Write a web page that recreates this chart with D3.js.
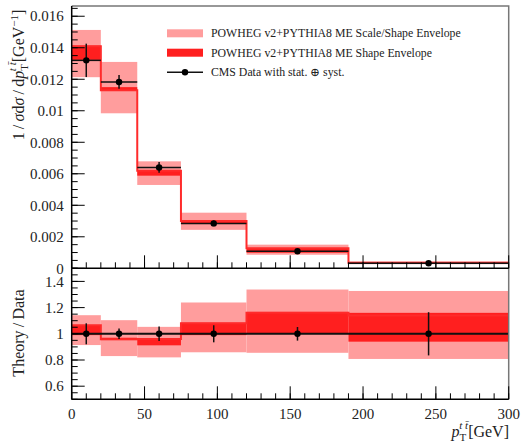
<!DOCTYPE html>
<html>
<head>
<meta charset="utf-8">
<script src="https://cdn.jsdelivr.net/npm/d3@7"></script>
<style>
  body { margin: 0; background: #fff; }
  svg text { font-family: "Liberation Serif", "DejaVu Serif", serif; fill: #222; }
</style>
</head>
<body>
<svg id="chart_svg" width="521" height="443"></svg>
<script>
// bins in pT(ttbar) [GeV]
var binEdges = [0, 20, 45, 75, 120, 190, 300];

// top panel: normalised cross section
var dataVals = [0.0132, 0.01183, 0.0064, 0.00285, 0.00108, 0.00032];
var dataErr = [0.00106, 0.00044, 0.00034, 0.00018, 0.00006, 0.00005];
var theoryVals = [0.0141, 0.0113, 0.0062, 0.0030, 0.00128, 0.00036];
var scaleLo = [0.01213, 0.00984, 0.00529, 0.00244, 0.00086, 0.00026];
var scaleHi = [0.01513, 0.0131, 0.00679, 0.00353, 0.0015, 0.00043];
var shapeLo = [0.01323, 0.01128, 0.00588, 0.00281, 0.00099, 0.0003];
var shapeHi = [0.01413, 0.0115, 0.0062, 0.0030, 0.00129, 0.00037];

// bottom panel: theory / data
var ratioData = [1, 1, 1, 1, 1, 1];
var ratioErr = [0.08, 0.04, 0.055, 0.065, 0.052, 0.165];
var ratioTheory = [1.066, 0.958, 0.96, 1.08, 1.16, 1.14];
var ratioScaleLo = [0.914, 0.83, 0.82, 0.859, 0.855, 0.808];
var ratioScaleHi = [1.142, 1.104, 1.053, 1.239, 1.338, 1.327];
var ratioShapeLo = [0.99, 0.952, 0.912, 0.99, 1.0, 0.94];
var ratioShapeHi = [1.066, 0.97, 0.962, 1.084, 1.167, 1.16];

var topTicks = [0, 0.002, 0.004, 0.006, 0.008, 0.01, 0.012, 0.014, 0.016];
var topTickLabels = ["0", "0.002", "0.004", "0.006", "0.008", "0.01", "0.012", "0.014", "0.016"];
var ratioTicks = [0.6, 0.8, 1, 1.2, 1.4];
var ratioTickLabels = ["0.6", "0.8", "1", "1.2", "1.4"];
var xTicks = [0, 50, 100, 150, 200, 250, 300];

var legendLabels = [
  "POWHEG v2+PYTHIA8 ME Scale/Shape Envelope",
  "POWHEG v2+PYTHIA8 ME Shape Envelope",
  "CMS Data with stat. \u2295 syst."
];

var lightRed = "#ff9d9d", darkRed = "#ff1f1f", lineRed = "#ff2b2b";

// panel edges in px
var pLeft = 71.7, pRight = 508.7, pTop = 6, pMid = 268.3, pBottom = 399.3;

var svg = d3.select("#chart_svg");

var xScale = d3.scaleLinear().domain([0, 300]).range([pLeft, pRight]);
var yTop = d3.scaleLinear().domain([0, 0.01665]).range([pMid, pTop]);
var yRatio = d3.scaleLinear().domain([0.5, 1.5]).range([pBottom, pMid]);

var bins = d3.range(binEdges.length - 1).map(function (i) {
  return { i: i, x0: binEdges[i], x1: binEdges[i + 1], xc: (binEdges[i] + binEdges[i + 1]) / 2 };
});

function drawBands(yScale, lo, hi, color) {
  svg.append("g").selectAll("rect")
    .data(bins)
    .join("rect")
    .attr("x", d => xScale(d.x0))
    .attr("width", d => xScale(d.x1) - xScale(d.x0))
    .attr("y", d => yScale(hi[d.i]))
    .attr("height", d => yScale(lo[d.i]) - yScale(hi[d.i]))
    .attr("fill", color);
}

function drawStep(yScale, vals) {
  var pts = [];
  bins.forEach(function (d) {
    pts.push([d.x0, vals[d.i]]);
    pts.push([d.x1, vals[d.i]]);
  });
  var line = d3.line().x(p => xScale(p[0])).y(p => yScale(p[1]));
  svg.append("path")
    .datum(pts)
    .attr("d", line)
    .attr("fill", "none")
    .attr("stroke", lineRed)
    .attr("stroke-width", 2);
}

function drawPoints(yScale, vals, errs, withXBars) {
  var g = svg.append("g");
  if (withXBars) {
    g.selectAll("line.xbar")
      .data(bins)
      .join("line")
      .attr("class", "xbar")
      .attr("x1", d => xScale(d.x0))
      .attr("x2", d => xScale(d.x1))
      .attr("y1", d => yScale(vals[d.i]))
      .attr("y2", d => yScale(vals[d.i]))
      .attr("stroke", "#111")
      .attr("stroke-width", 1.5);
  }
  g.selectAll("line.ybar")
    .data(bins)
    .join("line")
    .attr("class", "ybar")
    .attr("x1", d => xScale(d.xc))
    .attr("x2", d => xScale(d.xc))
    .attr("y1", d => yScale(vals[d.i] - errs[d.i]))
    .attr("y2", d => yScale(vals[d.i] + errs[d.i]))
    .attr("stroke", "#111")
    .attr("stroke-width", 1.5);
  g.selectAll("circle")
    .data(bins)
    .join("circle")
    .attr("cx", d => xScale(d.xc))
    .attr("cy", d => yScale(vals[d.i]))
    .attr("r", 3.2)
    .attr("fill", "#000");
}

// top panel
drawBands(yTop, scaleLo, scaleHi, lightRed);
drawBands(yTop, shapeLo, shapeHi, darkRed);
drawStep(yTop, theoryVals);
drawPoints(yTop, dataVals, dataErr, true);

// ratio panel
drawBands(yRatio, ratioScaleLo, ratioScaleHi, lightRed);
drawBands(yRatio, ratioShapeLo, ratioShapeHi, darkRed);
drawStep(yRatio, ratioTheory);
svg.append("line")
  .attr("x1", xScale(0)).attr("x2", xScale(300))
  .attr("y1", yRatio(1)).attr("y2", yRatio(1))
  .attr("stroke", "#111").attr("stroke-width", 2);
drawPoints(yRatio, ratioData, ratioErr, false);

// frame
svg.append("path")
  .attr("d", `M${pLeft},${pTop}H${pRight}V${pBottom}`)
  .attr("fill", "none").attr("stroke", "#777").attr("stroke-width", 1.5);

function yAxis(scale, major, labels, minorStep, lo, hi) {
  var minor = d3.range(lo, hi + 1e-9, minorStep);
  var g = svg.append("g");
  g.selectAll("line.minor").data(minor).join("line")
    .attr("class", "minor")
    .attr("x1", pLeft).attr("x2", pLeft + 6)
    .attr("y1", d => scale(d)).attr("y2", d => scale(d))
    .attr("stroke", "#000").attr("stroke-width", 1);
  g.selectAll("line.major").data(major).join("line")
    .attr("class", "major")
    .attr("x1", pLeft).attr("x2", pLeft + 13)
    .attr("y1", d => scale(d)).attr("y2", d => scale(d))
    .attr("stroke", "#000").attr("stroke-width", 1);
  g.selectAll("text").data(major).join("text")
    .attr("x", pLeft - 8)
    .attr("y", d => scale(d))
    .attr("dy", "0.35em")
    .attr("text-anchor", "end")
    .style("font-size", "15px")
    .text((d, i) => labels[i]);
  g.append("line")
    .attr("x1", pLeft).attr("x2", pLeft)
    .attr("y1", scale.range()[0]).attr("y2", scale.range()[1])
    .attr("stroke", "#000").attr("stroke-width", 1.5);
}

function xAxis(y) {
  var g = svg.append("g");
  g.selectAll("line.minor").data(d3.range(0, 301, 10)).join("line")
    .attr("class", "minor")
    .attr("x1", d => xScale(d)).attr("x2", d => xScale(d))
    .attr("y1", y).attr("y2", y - 6)
    .attr("stroke", "#000").attr("stroke-width", 1);
  g.selectAll("line.major").data(xTicks).join("line")
    .attr("class", "major")
    .attr("x1", d => xScale(d)).attr("x2", d => xScale(d))
    .attr("y1", y).attr("y2", y - 13)
    .attr("stroke", "#000").attr("stroke-width", 1);
  g.append("line")
    .attr("x1", pLeft).attr("x2", pRight)
    .attr("y1", y).attr("y2", y)
    .attr("stroke", "#000").attr("stroke-width", 1.5);
}

yAxis(yTop, topTicks, topTickLabels, 0.0005, 0, 0.0165);
yAxis(yRatio, ratioTicks, ratioTickLabels, 0.05, 0.5, 1.5);
xAxis(pMid);
xAxis(pBottom);

svg.append("g").selectAll("text").data(xTicks).join("text")
  .attr("x", d => xScale(d))
  .attr("y", 419)
  .attr("text-anchor", "middle")
  .style("font-size", "15px")
  .text(d => d);

// axis titles
var yl = svg.append("text")
  .attr("transform", "translate(24,75) rotate(-90)")
  .attr("text-anchor", "middle")
  .style("font-size", "16px");
yl.append("tspan").text("1\u2009/\u2009");
yl.append("tspan").style("font-style", "italic").text("\u03c3");
yl.append("tspan").text("d");
yl.append("tspan").style("font-style", "italic").text("\u03c3");
yl.append("tspan").text("\u2009/\u2009d");
yl.append("tspan").style("font-style", "italic").text("p");
yl.append("tspan").attr("dy", 4).style("font-size", "11px").text("T");
yl.append("tspan").attr("dx", -7).attr("dy", -12).style("font-size", "11px").style("font-style", "italic").text("t t\u0304");
yl.append("tspan").attr("dy", 8).text("[GeV");
yl.append("tspan").attr("dy", -6).style("font-size", "11px").text("\u22121");
yl.append("tspan").attr("dy", 6).text("]");

svg.append("text")
  .attr("transform", "translate(24,333) rotate(-90)")
  .attr("text-anchor", "middle")
  .style("font-size", "16px")
  .text("Theory\u2009/\u2009Data");

var xl = svg.append("text")
  .attr("x", 509)
  .attr("y", 437)
  .attr("text-anchor", "end")
  .style("font-size", "16px");
xl.append("tspan").style("font-style", "italic").text("p");
xl.append("tspan").attr("dy", 4).style("font-size", "11px").text("T");
xl.append("tspan").attr("dx", -7).attr("dy", -12).style("font-size", "11px").style("font-style", "italic").text("t t\u0304");
xl.append("tspan").attr("dy", 8).text("[GeV]");

// legend
var legendY = [33.3, 52.7, 72.3];
var lg = svg.append("g");
lg.append("rect").attr("x", 167).attr("y", legendY[0] - 4).attr("width", 36).attr("height", 8).attr("fill", lightRed);
lg.append("rect").attr("x", 167).attr("y", legendY[1] - 4).attr("width", 36).attr("height", 8).attr("fill", darkRed);
lg.append("line").attr("x1", 167).attr("x2", 203).attr("y1", legendY[2]).attr("y2", legendY[2])
  .attr("stroke", "#111").attr("stroke-width", 1.5);
lg.append("circle").attr("cx", 185).attr("cy", legendY[2]).attr("r", 3.2).attr("fill", "#000");
lg.selectAll("text").data(legendLabels).join("text")
  .attr("x", 211)
  .attr("y", (d, i) => legendY[i])
  .attr("dy", "0.35em")
  .style("font-size", "11.8px")
  .text(d => d);
</script>
</body>
</html>
